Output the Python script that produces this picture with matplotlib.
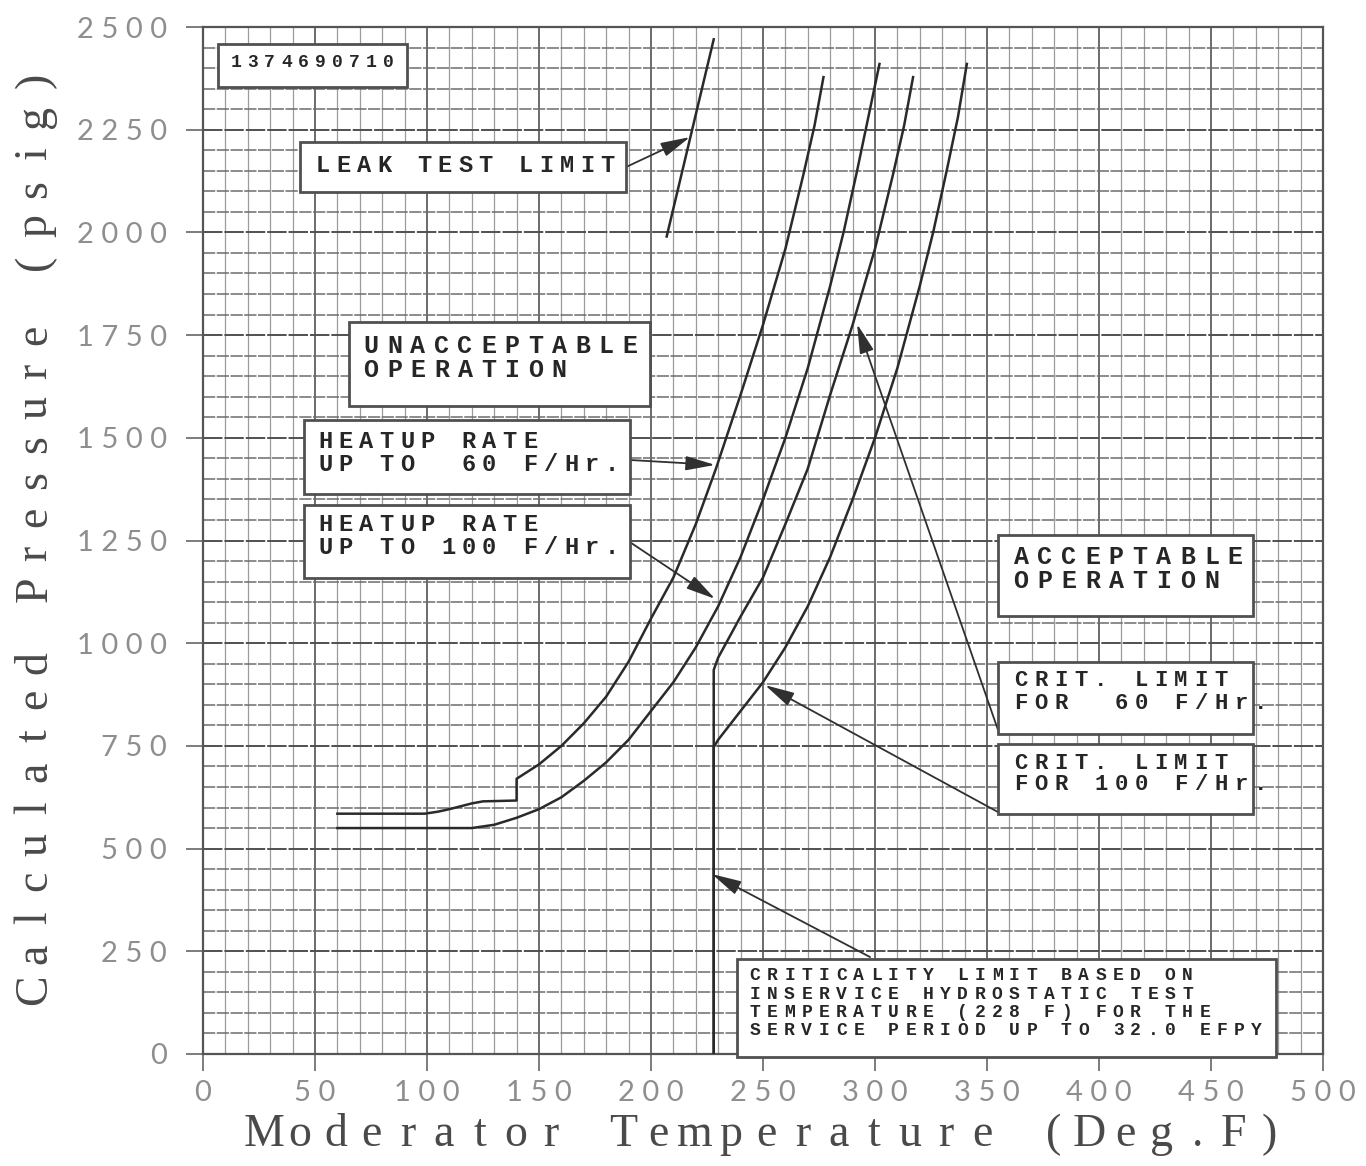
import matplotlib
matplotlib.use("Agg")
import matplotlib.pyplot as plt
import matplotlib.patches as patches
from matplotlib.transforms import IdentityTransform
import numpy as np

# --- curve data (Deg.F, psig) ---
leak_x = [207, 228]
leak_y = [1990, 2470]

heat60_x = [60, 99, 105, 110, 115, 120, 125, 140, 140, 150, 160, 170, 180, 190,
            200, 210, 220, 229, 240, 250, 260, 268, 273, 277]
heat60_y = [585, 585, 590, 596, 603, 610, 615, 617, 670, 705, 750, 805, 870, 955,
            1060, 1160, 1290, 1425, 1605, 1775, 1960, 2140, 2260, 2378]

heat100_x = [60, 120, 130, 140, 150, 160, 170, 180, 190, 200, 210, 220, 230, 240,
             250, 260, 270, 280, 286, 292, 297, 302]
heat100_y = [550, 550, 558, 575, 596, 625, 665, 710, 765, 835, 905, 990, 1090, 1210,
             1350, 1500, 1670, 1870, 2001, 2150, 2280, 2410]

crit60_x = [228, 228, 230, 240, 250, 260, 270, 280, 290, 300, 308, 313, 317]
crit60_y = [0, 935, 965, 1065, 1160, 1290, 1425, 1605, 1775, 1960, 2140, 2260, 2378]

crit100_x = [228, 228, 230, 240, 250, 260, 270, 280, 290, 300, 310, 320, 326, 332, 337, 341]
crit100_y = [0, 747, 765, 835, 905, 990, 1090, 1210, 1350, 1500, 1670, 1870, 2001, 2150, 2280, 2410]

x_ticks = list(range(0, 501, 50))
y_ticks = list(range(0, 2501, 250))

W, H = 1366, 1166
fig = plt.figure(figsize=(W / 100, H / 100), dpi=100)
fig.patch.set_facecolor("white")
ax = fig.add_axes([203 / W, (H - 1054) / H, 1120 / W, 1027 / H])
ax.set_xlim(0, 500)
ax.set_ylim(0, 2500)

# graph paper grid
ax.set_xticks(x_ticks)
ax.set_xticks(np.arange(0, 501, 10), minor=True)
ax.set_yticks(y_ticks)
ax.set_yticks(np.arange(0, 2501, 50), minor=True)
ax.set_axisbelow(True)
ax.xaxis.grid(True, which="minor", color="#9c9c9c", lw=0.9)
ax.xaxis.grid(True, which="major", color="#606060", lw=1.3)
ax.yaxis.grid(True, which="minor", color="#6c6c6c", lw=1.1, ls=(0, (8, 1)))
ax.yaxis.grid(True, which="major", color="#505050", lw=1.4, ls=(0, (10, 1)))
ax.tick_params(which="minor", length=0)
ax.tick_params(which="major", length=12, width=1.2, color="#666666", direction="out")
ax.tick_params(axis="x", pad=7)
ax.tick_params(axis="y", pad=14)
for s in ax.spines.values():
    s.set_color("#555555")
    s.set_linewidth(1.6)

tick_font = dict(family="Lato", weight="normal", size=21, color="#8e8e8e")
ax.set_xticklabels([" ".join(str(v)) for v in x_ticks], **tick_font)
ax.set_yticklabels([" ".join(str(v)) for v in y_ticks], **tick_font)

# curves
line_kw = dict(color="#2a2a2a", lw=1.8, zorder=3, solid_joinstyle="round")
ax.plot(leak_x, leak_y, **line_kw)
ax.plot(heat60_x, heat60_y, **line_kw)
ax.plot(heat100_x, heat100_y, **line_kw)
ax.plot(crit60_x, crit60_y, **line_kw)
ax.plot(crit100_x, crit100_y, **line_kw)


# typewriter style text, one character per slot
def typed(x, y, text, pitch, size):
    for i, ch in enumerate(text):
        if ch != " ":
            ax.annotate(ch, (x, y), xytext=(i * pitch, 0), textcoords="offset pixels",
                        ha="center", va="center", fontsize=size, family="Liberation Mono",
                        weight="bold", color="#262626", zorder=6, annotation_clip=False)


def box(x0, x1, y0, y1):
    ax.add_patch(patches.Rectangle((x0, y0), x1 - x0, y1 - y0, facecolor="white",
                                   edgecolor="#505050", lw=2.0, zorder=5, clip_on=False))


def arrow(start, tip):
    ax.annotate("", xy=tip, xytext=start, zorder=4, annotation_clip=False,
                arrowprops=dict(arrowstyle="-|>,head_length=0.9,head_width=0.22",
                                mutation_scale=20, color="#303030", lw=1.3,
                                shrinkA=0, shrinkB=0))


box(6.7, 91.0, 2354, 2459)
typed(14.7, 2413, "1374690710", 16.9, 13)

box(43.3, 188.8, 2098, 2220)
typed(53.6, 2162, "LEAK TEST LIMIT", 20.3, 17)
arrow((188.8, 2159), (217.4, 2232))

box(65.2, 199.6, 1577, 1782)
typed(75.0, 1723, "UNACCEPTABLE", 23.5, 18)
typed(75.0, 1665, "OPERATION", 23.5, 18)

box(45.1, 190.6, 1363, 1543)
typed(54.5, 1492, "HEATUP RATE", 20.5, 17)
typed(54.5, 1436, "UP TO  60 F/Hr.", 20.5, 17)
arrow((190.6, 1446), (228.6, 1434))

box(45.1, 190.6, 1159, 1336)
typed(54.5, 1290, "HEATUP RATE", 20.5, 17)
typed(54.5, 1234, "UP TO 100 F/Hr.", 20.5, 17)
arrow((190.6, 1246), (228.6, 1108))

box(354.9, 468.8, 1066, 1263)
typed(365.2, 1209, "ACCEPTABLE", 23.8, 18)
typed(365.2, 1151, "OPERATION", 23.8, 18)

box(354.9, 468.8, 779, 954)
typed(365.2, 908, "CRIT. LIMIT", 20.0, 16)
typed(365.2, 854, "FOR  60 F/Hr.", 20.0, 16)
arrow((354.9, 789), (292.0, 1777))

box(354.9, 468.8, 584, 755)
typed(365.2, 708, "CRIT. LIMIT", 20.0, 16)
typed(365.2, 655, "FOR 100 F/Hr.", 20.0, 16)
arrow((354.9, 589), (250.9, 898))

box(238.4, 479.0, -7, 231)
crit_lines = ["CRITICALITY LIMIT BASED ON",
              "INSERVICE HYDROSTATIC TEST",
              "TEMPERATURE (228 F) FOR THE",
              "SERVICE PERIOD UP TO 32.0 EFPY"]
for line, yy in zip(crit_lines, [191, 146, 102, 58]):
    typed(246.4, yy, line, 17.3, 13)
arrow((297.8, 236), (227.2, 438))


# spaced plotter lettering for the axis titles (pixel positions)
def plot_label(px, py, text, pitch, size, vertical=False):
    for i, ch in enumerate(text):
        if ch == " ":
            continue
        if vertical:
            x, y, rot = px, (H - py) + i * pitch, 90
        else:
            x, y, rot = px + i * pitch, H - py, 0
        fig.text(x, y, ch, transform=IdentityTransform(), ha="center", va="center",
                 rotation=rot, fontsize=size, family="Liberation Serif", color="#4a4a4a")


plot_label(264, 1135, "Moderator Temperature (Deg.F)", 35.9, 33)
plot_label(35, 990, "Calculated Pressure (psig)", 36.4, 33, vertical=True)

fig.savefig("out.png", dpi=100)
